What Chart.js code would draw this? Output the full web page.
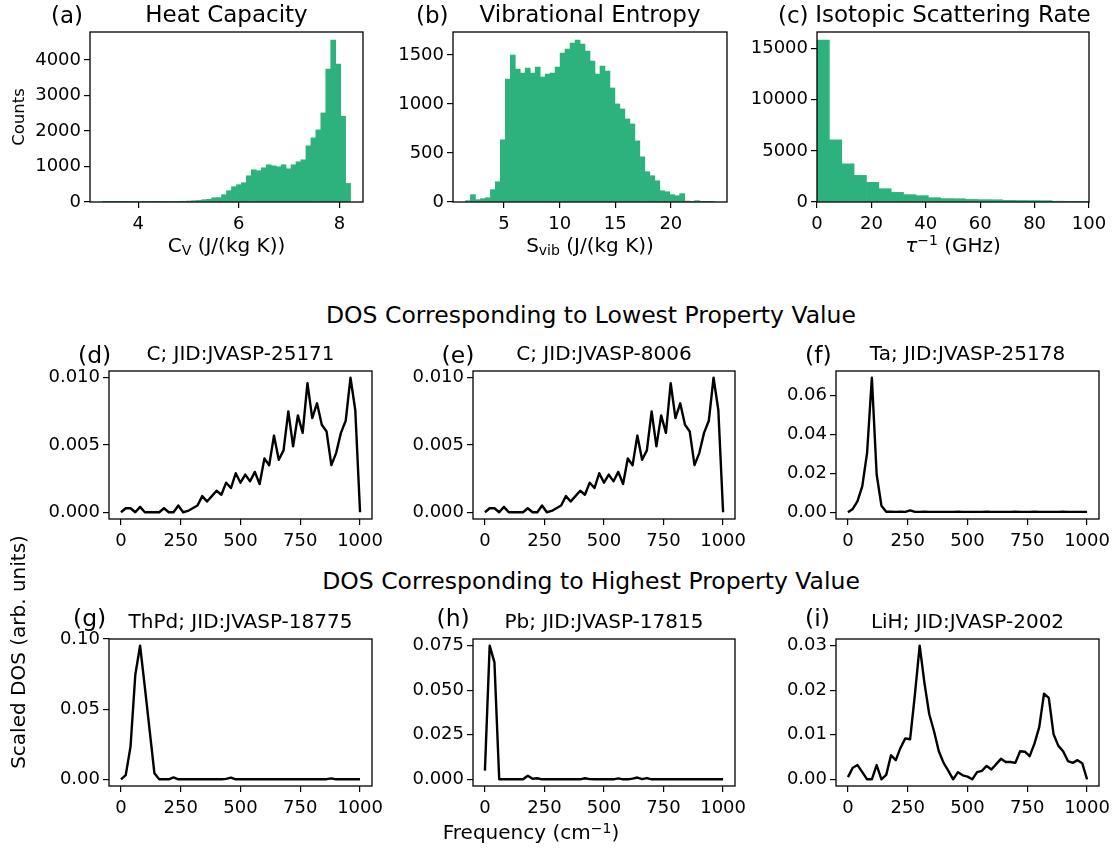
<!DOCTYPE html>
<html><head><meta charset="utf-8">
<script src="https://cdn.jsdelivr.net/npm/chart.js@4.4.1/dist/chart.umd.min.js"></script>
<style>
html,body{margin:0;padding:0;background:#fff;}
#fig{position:relative;width:1112px;height:849px;overflow:hidden;font-family:"DejaVu Sans",sans-serif;color:#000;}
#fig canvas{position:absolute;}
.t{position:absolute;white-space:nowrap;line-height:1;font-family:"DejaVu Sans",sans-serif;}
.sub{font-size:0.7em;position:relative;top:0.22em;}
.sup{font-size:0.7em;position:relative;top:-0.45em;}
</style></head><body><div id="fig"></div>
<script>
// ---------------- data ----------------
const cvRange = [3.29, 8.22];
const cvCounts = [3, 2, 4, 3, 8, 18, 12, 16, 10, 14, 10, 15, 14, 17, 19, 20, 22, 28, 38, 45,
  65, 75, 120, 125, 206, 318, 431, 487, 543, 740, 908, 880, 964, 1049, 1020, 992, 1049, 936, 1049, 1133,
  1189, 1582, 1807, 2032, 2509, 3745, 4560, 3886, 2416, 524];
const svibRange = [1.53, 23.93];
const svibCounts = [14, 75, 24, 34, 44, 126, 207, 635, 1255, 1500, 1357, 1317, 1367, 1317, 1378, 1276, 1306, 1317, 1378, 1520,
  1561, 1622, 1653, 1612, 1541, 1439, 1306, 1388, 1337, 1164, 1001, 950, 848, 797, 624, 461, 309, 268, 217, 115,
  105, 75, 64, 85, 10, 7, 14, 3, 3, 7];
const rateRange = [0, 100];
const rateCounts = [15820, 6070, 3730, 2600, 1920, 1300, 940, 720, 620, 420, 330, 320, 250, 230, 220, 160, 150, 140, 130, 80, 70, 60];

const freq = [0, 20, 40, 60, 80, 100, 120, 140, 160, 180, 200, 220, 240, 260, 280, 300, 320, 340, 360, 380,
  400, 420, 440, 460, 480, 500, 520, 540, 560, 580, 600, 620, 640, 660, 680, 700, 720, 740, 760, 780,
  800, 820, 840, 860, 880, 900, 920, 940, 960, 980, 1000];
const dosD = [0, 0.0003, 0.0003, 0, 0.0004, 0, 0, 0, 0, 0.0003, 0, 0, 0.0005, 0, 0.0001, 0.0003, 0.0005, 0.0012, 0.0008, 0.0012,
  0.0016, 0.0013, 0.0022, 0.0018, 0.0029, 0.0022, 0.0028, 0.0023, 0.0030, 0.0021, 0.0040, 0.0035, 0.0057, 0.0039, 0.0046, 0.0075, 0.0049, 0.0072, 0.0059, 0.0096,
  0.0070, 0.0081, 0.0065, 0.0060, 0.0035, 0.0044, 0.0059, 0.0068, 0.0100, 0.0076, 0];
const dosE = [0, 0.0003, 0.0003, 0, 0.0004, 0, 0, 0, 0, 0.0003, 0, 0, 0.0005, 0, 0.0001, 0.0003, 0.0005, 0.0012, 0.0008, 0.0012,
  0.0016, 0.0013, 0.0022, 0.0018, 0.0029, 0.0022, 0.0028, 0.0023, 0.0030, 0.0021, 0.0040, 0.0035, 0.0057, 0.0039, 0.0046, 0.0075, 0.0049, 0.0072, 0.0059, 0.0096,
  0.0070, 0.0081, 0.0065, 0.0060, 0.0035, 0.0044, 0.0059, 0.0068, 0.0100, 0.0076, 0];
const dosF = [0, 0.0017, 0.0057, 0.0134, 0.0305, 0.0690, 0.0194, 0.0034, 0.0003, 0.0003, 0.0002, 0.0003, 0.0002, 0.0010, 0.0002, 0.0002, 0.0003, 0.0002, 0.0002, 0.0002,
  0.0002, 0.0002, 0.0002, 0.0003, 0.0002, 0.0002, 0.0002, 0.0002, 0.0002, 0.0003, 0.0002, 0.0002, 0.0002, 0.0002, 0.0002, 0.0003, 0.0002, 0.0002, 0.0002, 0.0003,
  0.0002, 0.0002, 0.0002, 0.0002, 0.0002, 0.0003, 0.0002, 0.0002, 0.0002, 0.0002, 0.0002];
const dosG = [0, 0.0030, 0.0233, 0.0745, 0.0952, 0.0655, 0.0348, 0.0043, 0, 0, 0, 0.0014, 0, 0.0001, 0, 0, 0, 0, 0.0001, 0,
  0, 0, 0.0003, 0.0012, 0, 0, 0, 0, 0, 0, 0, 0, 0, 0, 0, 0.0001, 0, 0, 0, 0,
  0, 0, 0, 0.0001, 0.0007, 0, 0, 0, 0, 0, 0];
const dosH = [0.0049, 0.0750, 0.0656, 0, 0, 0, 0, 0, 0, 0.0020, 0.0003, 0.0006, 0, 0, 0, 0, 0, 0, 0, 0,
  0, 0.0006, 0.0001, 0, 0, 0, 0, 0, 0.0005, 0, 0, 0.0004, 0.0010, 0.0001, 0.0007, 0, 0, 0, 0, 0,
  0, 0, 0, 0, 0, 0, 0, 0, 0, 0, 0];
const dosI = [0.0005, 0.0026, 0.0032, 0.0016, 0, 0, 0.0032, 0, 0.0010, 0.0054, 0.0043, 0.0071, 0.0092, 0.0090, 0.0190, 0.0300, 0.0216, 0.0146, 0.0108, 0.0063,
  0.0037, 0.0019, 0, 0.0016, 0.0009, 0.0006, 0, 0.0016, 0.0019, 0.0030, 0.0022, 0.0034, 0.0046, 0.0039, 0.0039, 0.0037, 0.0063, 0.0062, 0.0052, 0.0080,
  0.0117, 0.0192, 0.0183, 0.0101, 0.0075, 0.0063, 0.0041, 0.0037, 0.0043, 0.0036, 0];

// tick values and labels
const cvXTicks = [4, 6, 8];            const cvXLabels = ['4', '6', '8'];
const cvYTicks = [0, 1000, 2000, 3000, 4000]; const cvYLabels = ['0', '1000', '2000', '3000', '4000'];
const svibXTicks = [5, 10, 15, 20];    const svibXLabels = ['5', '10', '15', '20'];
const svibYTicks = [0, 500, 1000, 1500]; const svibYLabels = ['0', '500', '1000', '1500'];
const rateXTicks = [0, 20, 40, 60, 80, 100]; const rateXLabels = ['0', '20', '40', '60', '80', '100'];
const rateYTicks = [0, 5000, 10000, 15000]; const rateYLabels = ['0', '5000', '10000', '15000'];
const freqTicks = [0, 250, 500, 750, 1000]; const freqLabels = ['0', '250', '500', '750', '1000'];
const dYTicks = [0, 0.005, 0.010]; const dYLabels = ['0.000', '0.005', '0.010'];
const fYTicks = [0, 0.02, 0.04, 0.06]; const fYLabels = ['0.00', '0.02', '0.04', '0.06'];
const gYTicks = [0, 0.05, 0.10]; const gYLabels = ['0.00', '0.05', '0.10'];
const hYTicks = [0, 0.025, 0.050, 0.075]; const hYLabels = ['0.000', '0.025', '0.050', '0.075'];
const iYTicks = [0, 0.01, 0.02, 0.03]; const iYLabels = ['0.00', '0.01', '0.02', '0.03'];

// ---------------- rendering ----------------
const fig = document.getElementById('fig');
const GREEN = '#2db27d';
const FONT = 'DejaVu Sans';
const TICK_SIZE = 18;

const boxPlugin = {
  id: 'box',
  afterDraw(chart) {
    const a = chart.chartArea, ctx = chart.ctx;
    ctx.save();
    ctx.strokeStyle = '#000';
    ctx.lineWidth = 1.3;
    ctx.strokeRect(a.left, a.top, a.right - a.left, a.bottom - a.top);
    ctx.restore();
  }
};

function axisOpts(min, max, ticks, labels, isX, fitSize) {
  return {
    type: 'linear', min, max, offset: false,
    afterBuildTicks: ax => { ax.ticks = ticks.map(v => ({ value: v })); },
    afterFit: s => { if (isX) s.height = fitSize; else s.width = fitSize; },
    grid: { display: true, drawOnChartArea: false, drawTicks: true, tickLength: 6, color: '#000', lineWidth: 1.2, offset: false },
    border: { display: false },
    ticks: {
      autoSkip: false, maxRotation: 0, minRotation: 0, padding: isX ? 6 : 3,
      color: '#000', font: { size: TICK_SIZE, family: FONT },
      callback: (v, i) => labels[i]
    }
  };
}

function panel(box, type, dataset, xr, yr, xt, xl, yt, yl) {
  const yW = 78, xH = 42, padT = 14, padR = 32;
  const w = yW + (box.R - box.L) + padR;
  const h = padT + (box.B - box.T) + xH;
  const c = document.createElement('canvas');
  c.width = w; c.height = h;
  c.style.left = (box.L - yW) + 'px';
  c.style.top = (box.T - padT) + 'px';
  c.style.width = w + 'px'; c.style.height = h + 'px';
  fig.appendChild(c);
  new Chart(c.getContext('2d'), {
    type,
    data: { datasets: [dataset] },
    options: {
      responsive: false, animation: false, devicePixelRatio: 1, events: [],
      layout: { padding: { top: padT, right: padR, left: 0, bottom: 0 } },
      plugins: { legend: { display: false }, tooltip: { enabled: false }, title: { display: false } },
      scales: {
        x: axisOpts(xr[0], xr[1], xt, xl, true, xH),
        y: axisOpts(yr[0], yr[1], yt, yl, false, yW)
      }
    },
    plugins: [boxPlugin]
  });
}

function hist(box, range, counts, xt, xl, yt, yl, xlim) {
  const n = counts.length, bw = (range[1] - range[0]) / n;
  const pts = counts.map((v, i) => ({ x: range[0] + (i + 0.5) * bw, y: v }));
  const w = range[1] - range[0];
  const xr = xlim || [range[0] - 0.05 * w, range[1] + 0.05 * w];
  const yr = [0, Math.max(...counts) * 1.05];
  panel(box, 'bar', {
    data: pts, backgroundColor: GREEN, borderWidth: 0,
    barPercentage: 1, categoryPercentage: 1
  }, xr, yr, xt, xl, yt, yl);
}

function dos(box, vals, yt, yl) {
  const pts = freq.map((f, i) => ({ x: f, y: vals[i] }));
  const x0 = Math.min(...freq), x1 = Math.max(...freq);
  const y0 = Math.min(...vals), y1 = Math.max(...vals);
  const xr = [x0 - 0.05 * (x1 - x0), x1 + 0.05 * (x1 - x0)];
  const yr = [y0 - 0.05 * (y1 - y0), y1 + 0.05 * (y1 - y0)];
  panel(box, 'line', {
    data: pts, borderColor: '#000', borderWidth: 2.4, pointRadius: 0, tension: 0,
    fill: false, borderJoinStyle: 'round'
  }, xr, yr, freqTicks, freqLabels, yt, yl);
}

// row 1
hist({ L: 90, R: 363, T: 32, B: 202 }, cvRange, cvCounts, cvXTicks, cvXLabels, cvYTicks, cvYLabels);
hist({ L: 453, R: 727, T: 32, B: 202 }, svibRange, svibCounts, svibXTicks, svibXLabels, svibYTicks, svibYLabels);
hist({ L: 817, R: 1089, T: 32, B: 202 }, rateRange, rateCounts, rateXTicks, rateXLabels, rateYTicks, rateYLabels, [0, 100]);
// row 2
dos({ L: 109, R: 372, T: 371, B: 519 }, dosD, dYTicks, dYLabels);
dos({ L: 473, R: 735, T: 371, B: 519 }, dosE, dYTicks, dYLabels);
dos({ L: 836, R: 1099, T: 371, B: 519 }, dosF, fYTicks, fYLabels);
// row 3
dos({ L: 109, R: 372, T: 639, B: 786 }, dosG, gYTicks, gYLabels);
dos({ L: 473, R: 735, T: 639, B: 786 }, dosH, hYTicks, hYLabels);
dos({ L: 836, R: 1099, T: 639, B: 786 }, dosI, iYTicks, iYLabels);

// text
function txt(html, x, baseline, size, align, rot) {
  const d = document.createElement('div');
  d.className = 't';
  d.innerHTML = html;
  d.style.fontSize = size + 'px';
  if (rot) {
    d.style.left = x + 'px'; d.style.top = baseline + 'px';
    d.style.transform = 'translate(-50%,-50%) rotate(-90deg)';
  } else {
    d.style.top = (baseline - 0.846 * size) + 'px';
    d.style.left = x + 'px';
    if (align === 'center') d.style.transform = 'translateX(-50%)';
  }
  fig.appendChild(d);
}
txt('(a)', 51, 23, 23, 'left');
txt('Heat Capacity', 226.5, 22.5, 23, 'center');
txt('(b)', 416, 23, 23, 'left');
txt('Vibrational Entropy', 590, 22.5, 23, 'center');
txt('(c)', 778, 23, 23, 'left');
txt('Isotopic Scattering Rate', 953, 22.5, 23, 'center');
txt('C<span class="sub">V</span> (J/(kg K))', 226.5, 251.5, 20, 'center');
txt('S<span class="sub">vib</span> (J/(kg K))', 590, 251.5, 20, 'center');
txt('<i>τ</i><span class="sup">−1</span> (GHz)', 953, 251.5, 20, 'center');
txt('Counts', 19, 117, 16.5, 'center', true);

txt('DOS Corresponding to Lowest Property Value', 591, 324, 23.5, 'center');
txt('(d)', 78, 364, 23.5, 'left');
txt('C; JID:JVASP-25171', 240.5, 360, 20, 'center');
txt('(e)', 441.5, 364, 23.5, 'left');
txt('C; JID:JVASP-8006', 604, 360, 20, 'center');
txt('(f)', 805, 364, 23.5, 'left');
txt('Ta; JID:JVASP-25178', 967.5, 360, 20, 'center');

txt('DOS Corresponding to Highest Property Value', 591, 590, 23.5, 'center');
txt('(g)', 73, 627, 23.5, 'left');
txt('ThPd; JID:JVASP-18775', 240.5, 628, 20, 'center');
txt('(h)', 436.5, 627, 23.5, 'left');
txt('Pb; JID:JVASP-17815', 604, 628, 20, 'center');
txt('(i)', 805, 627, 23.5, 'left');
txt('LiH; JID:JVASP-2002', 967.5, 628, 20, 'center');

txt('Scaled DOS (arb. units)', 18, 652, 20, 'center', true);
txt('Frequency (cm<span class="sup">−1</span>)', 531, 839, 20, 'center');
</script>
</body></html>
